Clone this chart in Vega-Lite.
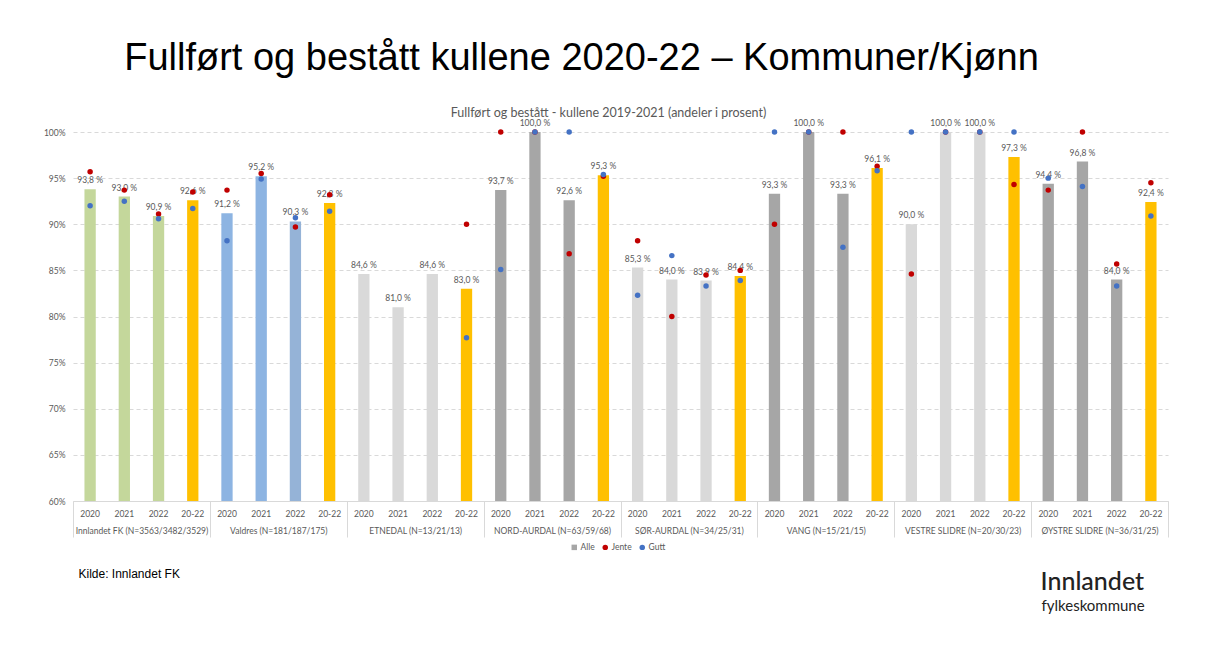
{
  "$schema": "https://vega.github.io/schema/vega-lite/v6.json",
  "width": 1095,
  "height": 369,
  "autosize": {"type": "none"},
  "padding": {"left": 73, "top": 132, "right": 46, "bottom": 159},
  "background": "#ffffff",
  "config": {
    "view": {"stroke": null},
    "font": "Lato",
    "axis": {"labelFont": "Lato", "labelColor": "#595959", "labelFontSize": 8.5}
  },
  "title": {
    "text": "Fullført og bestått kullene 2020-22 – Kommuner/Kjønn",
    "font": "Liberation Sans",
    "fontSize": 38,
    "fontWeight": "normal",
    "color": "#000000",
    "anchor": "middle",
    "frame": "group",
    "offset": 28,
    "dx": -39
  },
  "data": {
    "values": [
      {"gruppe": "Innlandet FK (N=3563/3482/3529)", "aar": "2020", "alle": 93.8, "Jente": 95.7, "Gutt": 92.0},
      {"gruppe": "Innlandet FK (N=3563/3482/3529)", "aar": "2021", "alle": 93.0, "Jente": 93.7, "Gutt": 92.5},
      {"gruppe": "Innlandet FK (N=3563/3482/3529)", "aar": "2022", "alle": 90.9, "Jente": 91.1, "Gutt": 90.6},
      {"gruppe": "Innlandet FK (N=3563/3482/3529)", "aar": "20-22", "alle": 92.6, "Jente": 93.5, "Gutt": 91.7},
      {"gruppe": "Valdres (N=181/187/175)", "aar": "2020", "alle": 91.2, "Jente": 93.7, "Gutt": 88.2},
      {"gruppe": "Valdres (N=181/187/175)", "aar": "2021", "alle": 95.2, "Jente": 95.5, "Gutt": 94.9},
      {"gruppe": "Valdres (N=181/187/175)", "aar": "2022", "alle": 90.3, "Jente": 89.7, "Gutt": 90.7},
      {"gruppe": "Valdres (N=181/187/175)", "aar": "20-22", "alle": 92.3, "Jente": 93.2, "Gutt": 91.4},
      {"gruppe": "ETNEDAL (N=13/21/13)", "aar": "2020", "alle": 84.6, "Jente": null, "Gutt": null},
      {"gruppe": "ETNEDAL (N=13/21/13)", "aar": "2021", "alle": 81.0, "Jente": null, "Gutt": null},
      {"gruppe": "ETNEDAL (N=13/21/13)", "aar": "2022", "alle": 84.6, "Jente": null, "Gutt": null},
      {"gruppe": "ETNEDAL (N=13/21/13)", "aar": "20-22", "alle": 83.0, "Jente": 90.0, "Gutt": 77.7},
      {"gruppe": "NORD-AURDAL (N=63/59/68)", "aar": "2020", "alle": 93.7, "Jente": 100.0, "Gutt": 85.1},
      {"gruppe": "NORD-AURDAL (N=63/59/68)", "aar": "2021", "alle": 100.0, "Jente": 100.0, "Gutt": 100.0},
      {"gruppe": "NORD-AURDAL (N=63/59/68)", "aar": "2022", "alle": 92.6, "Jente": 86.8, "Gutt": 100.0},
      {"gruppe": "NORD-AURDAL (N=63/59/68)", "aar": "20-22", "alle": 95.3, "Jente": 95.2, "Gutt": 95.4},
      {"gruppe": "SØR-AURDAL (N=34/25/31)", "aar": "2020", "alle": 85.3, "Jente": 88.2, "Gutt": 82.3},
      {"gruppe": "SØR-AURDAL (N=34/25/31)", "aar": "2021", "alle": 84.0, "Jente": 80.0, "Gutt": 86.6},
      {"gruppe": "SØR-AURDAL (N=34/25/31)", "aar": "2022", "alle": 83.9, "Jente": 84.5, "Gutt": 83.3},
      {"gruppe": "SØR-AURDAL (N=34/25/31)", "aar": "20-22", "alle": 84.4, "Jente": 85.0, "Gutt": 83.9},
      {"gruppe": "VANG (N=15/21/15)", "aar": "2020", "alle": 93.3, "Jente": 90.0, "Gutt": 100.0},
      {"gruppe": "VANG (N=15/21/15)", "aar": "2021", "alle": 100.0, "Jente": 100.0, "Gutt": 100.0},
      {"gruppe": "VANG (N=15/21/15)", "aar": "2022", "alle": 93.3, "Jente": 100.0, "Gutt": 87.5},
      {"gruppe": "VANG (N=15/21/15)", "aar": "20-22", "alle": 96.1, "Jente": 96.3, "Gutt": 95.8},
      {"gruppe": "VESTRE SLIDRE (N=20/30/23)", "aar": "2020", "alle": 90.0, "Jente": 84.6, "Gutt": 100.0},
      {"gruppe": "VESTRE SLIDRE (N=20/30/23)", "aar": "2021", "alle": 100.0, "Jente": 100.0, "Gutt": 100.0},
      {"gruppe": "VESTRE SLIDRE (N=20/30/23)", "aar": "2022", "alle": 100.0, "Jente": 100.0, "Gutt": 100.0},
      {"gruppe": "VESTRE SLIDRE (N=20/30/23)", "aar": "20-22", "alle": 97.3, "Jente": 94.3, "Gutt": 100.0},
      {"gruppe": "ØYSTRE SLIDRE (N=36/31/25)", "aar": "2020", "alle": 94.4, "Jente": 93.7, "Gutt": 95.0},
      {"gruppe": "ØYSTRE SLIDRE (N=36/31/25)", "aar": "2021", "alle": 96.8, "Jente": 100.0, "Gutt": 94.1},
      {"gruppe": "ØYSTRE SLIDRE (N=36/31/25)", "aar": "2022", "alle": 84.0, "Jente": 85.7, "Gutt": 83.3},
      {"gruppe": "ØYSTRE SLIDRE (N=36/31/25)", "aar": "20-22", "alle": 92.4, "Jente": 94.5, "Gutt": 90.9}
    ]
  },
  "transform": [{"calculate": "datum.gruppe + '|' + datum.aar", "as": "key"}],
  "layer": [
    {
      "layer": [
        {
          "mark": {"type": "bar", "width": {"band": 0.33}},
          "encoding": {
            "x": {
              "field": "key", "type": "nominal", "sort": null,
              "scale": {"paddingInner": 0, "paddingOuter": 0},
              "axis": {
                "orient": "bottom",
                "labelExpr": "split(datum.label, '|')[1]",
                "labelAngle": 0,
                "ticks": false,
                "labelPadding": 8,
                "domainColor": "#d9d9d9",
                "grid": false,
                "title": "fylkeskommune",
                "titleX": 968,
                "titleY": 109,
                "titleAlign": "left",
                "titleBaseline": "alphabetic",
                "titleFont": "Lato",
                "titleFontSize": 15,
                "titleFontWeight": "normal",
                "titleColor": "#222222"
              }
            },
            "y": {
              "field": "alle", "type": "quantitative",
              "scale": {"domain": [60, 100], "zero": false, "nice": false},
              "axis": {
                "values": [60, 65, 70, 75, 80, 85, 90, 95, 100],
                "labelExpr": "datum.value + '%'",
                "domain": false,
                "ticks": false,
                "labelPadding": 8,
                "gridColor": "#d9d9d9",
                "gridDash": [4, 3],
                "title": "Innlandet",
                "titleAngle": 0,
                "titleX": 967,
                "titleY": 457,
                "titleAlign": "left",
                "titleBaseline": "alphabetic",
                "titleFont": "Lato",
                "titleFontSize": 25,
                "titleFontWeight": 500,
                "titleColor": "#222222"
              }
            },
            "y2": {"datum": 60},
            "color": {
              "condition": [
                {"test": "datum.aar === '20-22'", "value": "#ffc000"},
                {"test": "datum.gruppe === 'Innlandet FK (N=3563/3482/3529)'", "value": "#c4d79b"},
                {"test": "datum.gruppe === 'Valdres (N=181/187/175)' && datum.aar === '2022'", "value": "#95b3d7"},
                {"test": "datum.gruppe === 'Valdres (N=181/187/175)'", "value": "#8db4e2"},
                {"test": "indexof(['NORD-AURDAL (N=63/59/68)', 'VANG (N=15/21/15)', 'ØYSTRE SLIDRE (N=36/31/25)'], datum.gruppe) >= 0", "value": "#a6a6a6"}
              ],
              "value": "#d9d9d9"
            }
          }
        },
        {
          "transform": [{"calculate": "replace(format(datum.alle, '.1f'), '.', ',') + ' %'", "as": "etikett"}],
          "mark": {"type": "text", "baseline": "bottom", "dy": -4, "fontSize": 8.5, "color": "#595959", "font": "Lato"},
          "encoding": {
            "x": {"field": "key", "type": "nominal", "sort": null},
            "y": {"field": "alle", "type": "quantitative"},
            "text": {"field": "etikett", "type": "nominal"}
          }
        },
        {
          "transform": [
            {"fold": ["Jente", "Gutt"], "as": ["serie", "verdi"]},
            {"filter": "datum.verdi != null"}
          ],
          "mark": {"type": "point", "filled": true, "size": 30, "opacity": 1},
          "encoding": {
            "x": {"field": "key", "type": "nominal", "sort": null},
            "y": {"field": "verdi", "type": "quantitative"},
            "color": {
              "field": "serie", "type": "nominal",
              "scale": {"domain": ["Alle", "Jente", "Gutt"], "range": ["#a6a6a6", "#c00000", "#4472c4"]},
              "legend": {
                "title": null, "orient": "none", "direction": "horizontal",
                "legendX": 497, "legendY": 411,
                "labelFontSize": 8.5, "labelColor": "#595959", "labelFont": "Lato",
                "symbolSize": 30, "columnPadding": 6, "labelOffset": 2
              }
            },
            "shape": {
              "field": "serie", "type": "nominal",
              "scale": {"domain": ["Alle", "Jente", "Gutt"], "range": ["square", "circle", "circle"]},
              "legend": {
                "title": null, "orient": "none", "direction": "horizontal",
                "legendX": 497, "legendY": 411,
                "labelFontSize": 8.5, "labelColor": "#595959", "labelFont": "Lato",
                "symbolSize": 30, "columnPadding": 6, "labelOffset": 2
              }
            }
          }
        }
      ]
    },
    {
      "mark": {"type": "rule", "opacity": 0},
      "encoding": {
        "x": {
          "field": "gruppe", "type": "nominal", "sort": null,
          "scale": {"paddingInner": 0, "paddingOuter": 0},
          "axis": {
            "orient": "bottom",
            "labelAngle": 0,
            "tickBand": "extent",
            "ticks": true,
            "tickSize": 36,
            "tickColor": "#d9d9d9",
            "domain": false,
            "grid": false,
            "labelPadding": -11,
            "title": "Kilde: Innlandet FK",
            "titleX": 5,
            "titleY": 76,
            "titleAlign": "left",
            "titleBaseline": "alphabetic",
            "titleFont": "Liberation Sans",
            "titleFontSize": 12,
            "titleFontWeight": "normal",
            "titleColor": "#000000"
          }
        }
      }
    },
    {
      "mark": {"type": "rule", "opacity": 0},
      "encoding": {
        "x": {
          "field": "gruppe", "type": "nominal", "sort": null,
          "axis": {
            "orient": "top",
            "labels": false,
            "ticks": false,
            "domain": false,
            "grid": false,
            "title": "Fullført og bestått - kullene 2019-2021 (andeler i prosent)",
            "titleX": 535,
            "titleY": -20,
            "titleAlign": "center",
            "titleBaseline": "middle",
            "titleFont": "Lato",
            "titleFontSize": 12.5,
            "titleFontWeight": "normal",
            "titleColor": "#595959"
          }
        }
      }
    }
  ],
  "resolve": {"scale": {"x": "independent"}}
}
